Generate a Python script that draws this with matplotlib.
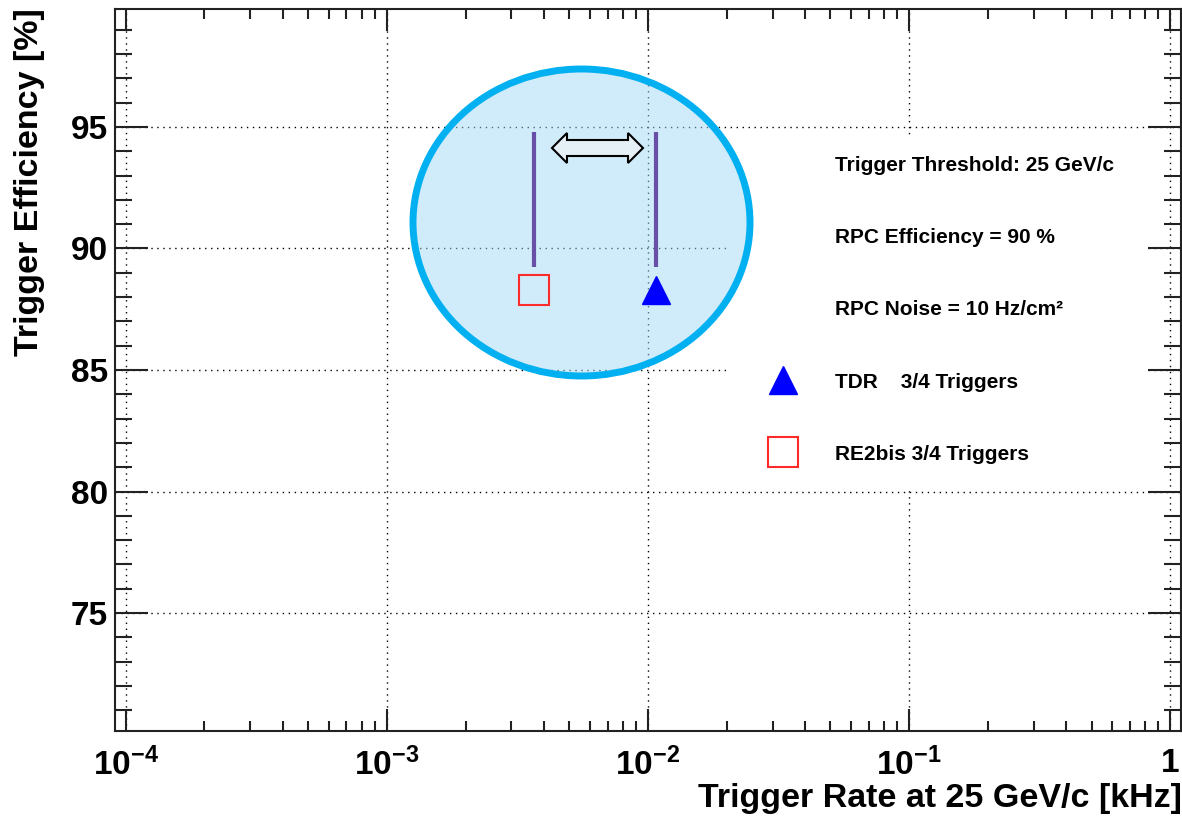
import numpy as np
import matplotlib
matplotlib.use('Agg')
import matplotlib.pyplot as plt
from matplotlib.patches import Ellipse, Polygon, Rectangle
from matplotlib.lines import Line2D
from matplotlib.ticker import LogLocator, MultipleLocator

# data
rate_tdr = [1.076e-2]
eff_tdr = [88.3]
rate_re2bis = [3.66e-3]
eff_re2bis = [88.3]

xticks = [1e-4, 1e-3, 1e-2, 1e-1, 1]
xticklabels = [r'$10^{-4}$', r'$10^{-3}$', r'$10^{-2}$', r'$10^{-1}$', '1']
yticks = [75, 80, 85, 90, 95]

legend_labels = ['Trigger Threshold: 25 GeV/c', 'RPC Efficiency = 90 %',
                 'RPC Noise = 10 Hz/cm²', 'TDR    3/4 Triggers', 'RE2bis 3/4 Triggers']

plt.rcParams['font.family'] = ['Liberation Sans', 'DejaVu Sans']
plt.rcParams['font.weight'] = 'bold'
plt.rcParams['axes.labelweight'] = 'bold'
plt.rcParams['mathtext.fontset'] = 'custom'
plt.rcParams['mathtext.rm'] = 'Liberation Sans:bold'
plt.rcParams['mathtext.it'] = 'Liberation Sans:bold'
plt.rcParams['mathtext.bf'] = 'Liberation Sans:bold'
plt.rcParams['mathtext.default'] = 'rm'

W, H = 1182, 818
L, R, T, B = 115, 1181, 9, 731
fig = plt.figure(figsize=(W / 100, H / 100), dpi=100)
ax = fig.add_axes([L / W, (H - B) / H, (R - L) / W, (B - T) / H])


def px(x, y):
    # picture pixels (from top-left) -> axes fraction
    return ((x - L) / (R - L), (B - y) / (B - T))


ax.set_xscale('log')
ax.set_xlim(1e-4 / 1.1, 1.1)
ax.set_ylim(70.15, 99.85)

ax.set_xticks(xticks, labels=xticklabels)
ax.xaxis.set_minor_locator(LogLocator(base=10, subs=np.arange(2, 10), numticks=30))
ax.set_yticks(yticks)
ax.yaxis.set_minor_locator(MultipleLocator(1))

ax.tick_params(which='both', direction='in', top=True, right=True, width=1.5, color='#222222')
ax.tick_params(axis='x', which='major', length=16, pad=12, labelsize=24)
ax.tick_params(axis='x', which='minor', length=7.5)
ax.tick_params(axis='y', which='major', length=24, pad=5, labelsize=24)
ax.tick_params(axis='y', which='minor', length=12)
for s in ax.spines.values():
    s.set_linewidth(1.5)
    s.set_color('#222222')

ax.grid(True, which='major', color='black', linestyle=(0, (1, 3.3)), linewidth=1.0)

ax.set_xlabel('Trigger Rate at 25 GeV/c [kHz]', fontsize=24.5, fontweight='bold',
              ha='right', va='center')
ax.xaxis.set_label_coords((1182 - L) / (R - L), (B - 798) / (B - T))
ax.set_ylabel('Trigger Efficiency [%]', fontsize=24.5, fontweight='bold',
              ha='right', va='center')
ax.yaxis.set_label_coords((30 - L) / (R - L), (B - 8) / (B - T))

# white box behind the legend, hides the grid
x0, y0 = px(730, 487)
x1, y1 = px(1148, 137)
ax.add_patch(Rectangle((x0, y0), x1 - x0, y1 - y0, transform=ax.transAxes,
                       facecolor='white', edgecolor='none', zorder=4))

# highlight ellipse
cx, cy = px(581.5, 222.5)
ax.add_patch(Ellipse((cx, cy), 337 / (R - L), 307 / (B - T), transform=ax.transAxes,
                     facecolor=(0.64, 0.85, 0.96, 0.5), edgecolor='#00b0f0',
                     linewidth=5, zorder=4.5))

# vertical bars above the points
ax.vlines(rate_re2bis + rate_tdr, 89.25, 94.8, color='#6a4fa8', linewidth=3, zorder=7)

# double arrow between the bars
arr = [(552, 148), (567, 133), (567, 140), (628, 140), (628, 133), (643, 148),
       (628, 163), (628, 156), (567, 156), (567, 163)]
ax.add_patch(Polygon([px(a, b) for a, b in arr], closed=True, transform=ax.transAxes,
                     facecolor='#e4f0f6', edgecolor='black', linewidth=1.5, zorder=7))

ax.plot(rate_tdr, eff_tdr, ls='none', marker='^', ms=20, color='#0000ff', zorder=8)
ax.plot(rate_re2bis, eff_re2bis, ls='none', marker='s', ms=21, mfc='none',
        mec='#ff2a2a', mew=1.5, zorder=8)

blank = Line2D([], [], ls='none')
tri = Line2D([], [], ls='none', marker='^', ms=20, color='#0000ff')
sq = Line2D([], [], ls='none', marker='s', ms=21, mfc='none', mec='#ff2a2a', mew=1.5)
ax.legend([blank, blank, blank, tri, sq], legend_labels, loc='upper left',
          bbox_to_anchor=px(730, 139.5), borderaxespad=0, frameon=False,
          fontsize=15, handlelength=3.49, handletextpad=0.75, labelspacing=2.55,
          borderpad=0.8, numpoints=1)

fig.savefig('out.png', dpi=100)
